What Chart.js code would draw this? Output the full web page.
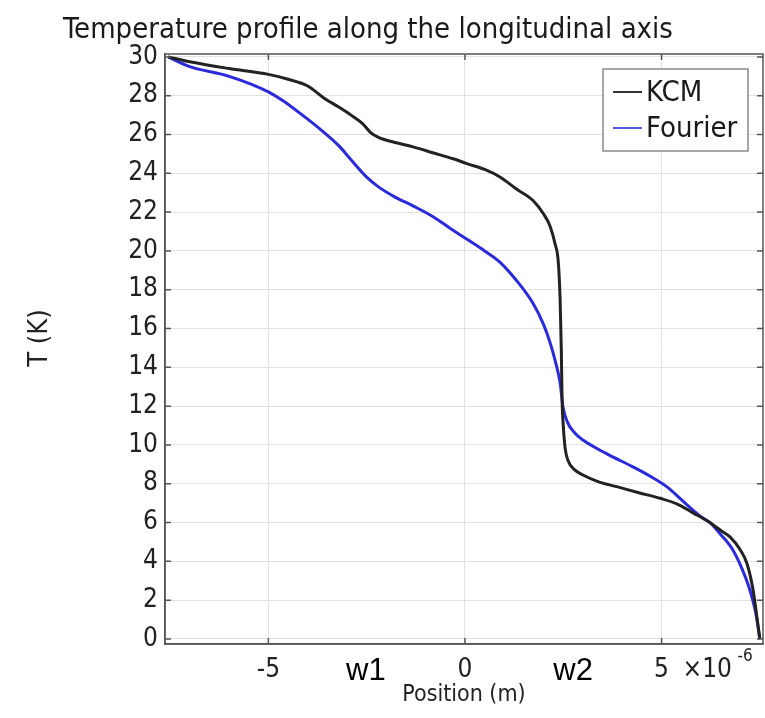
<!DOCTYPE html>
<html>
<head>
<meta charset="utf-8">
<title>Temperature profile</title>
<script src="https://cdn.jsdelivr.net/npm/chart.js@4.4.1/dist/chart.umd.min.js"></script>
<style>
    html, body { margin: 0; padding: 0; background: #fff; }
    #wrap { width: 765px; height: 718px; }
</style>
</head>
<body>
<div id="wrap"><canvas id="tempChart" width="765" height="718"></canvas></div>
<script>
// positions are in units of 1e-6 m (axis multiplier shown as x10^-6)
const kcmX = [-7.55, -7.0, -6.0, -5.0, -4.5, -4.0, -3.6, -3.2, -2.9, -2.6, -2.4, -2.2, -1.8, -1.3, -0.8, -0.3,
    0.05, 0.5, 0.9, 1.3, 1.73, 2.0, 2.16, 2.3, 2.37, 2.42, 2.45, 2.47, 2.5, 2.55, 2.62, 2.8, 3.0, 3.4, 3.86,
    4.4, 4.96, 5.4, 5.8, 6.23, 6.5, 6.74, 7.0, 7.17, 7.33, 7.42, 7.5];
const kcmT = [30.0, 29.75, 29.4, 29.1, 28.85, 28.5, 27.9, 27.4, 27.0, 26.55, 26.1, 25.85, 25.6, 25.35, 25.05, 24.75,
    24.5, 24.2, 23.8, 23.2, 22.6, 21.9, 21.3, 20.3, 19.5, 17.5, 14.9, 12.3, 11.0, 9.8, 9.2, 8.7, 8.45, 8.1, 7.85,
    7.55, 7.25, 6.95, 6.5, 6.0, 5.6, 5.26, 4.6, 3.9, 2.5, 1.2, 0.0];

const fourierX = [-7.55, -7.0, -6.0, -5.0, -4.6, -4.2, -3.7, -3.2, -2.9, -2.5, -2.2, -1.8, -1.3, -0.8, -0.4,
    0.05, 0.5, 0.9, 1.3, 1.73, 2.0, 2.16, 2.3, 2.42, 2.49, 2.6, 2.8, 3.0, 3.6, 4.27, 4.7, 5.13, 5.6, 6.0, 6.23,
    6.5, 6.81, 7.05, 7.25, 7.4, 7.5];
const fourierT = [30.0, 29.5, 29.0, 28.2, 27.7, 27.1, 26.3, 25.4, 24.7, 23.8, 23.3, 22.8, 22.3, 21.75, 21.2,
    20.6, 20.0, 19.4, 18.5, 17.3, 16.2, 15.3, 14.3, 13.2, 12.0, 11.2, 10.6, 10.25, 9.55, 8.87, 8.4, 7.85, 7.0, 6.3, 6.0,
    5.4, 4.6, 3.6, 2.5, 1.3, 0.0];

const xTicks = [-5, 0, 5];
const yTicks = [0, 2, 4, 6, 8, 10, 12, 14, 16, 18, 20, 22, 24, 26, 28, 30];

// region markers written under the axis
const markerLabels = ['w1', 'w2'];
const markerX = [-2.52, 2.75];

const FONT = '"DejaVu Sans Condensed", "DejaVu Sans", sans-serif';

function toPoints(xs, ys) {
    return xs.map(function(x, i) { return { x: x, y: ys[i] }; });
}

// frame, inward ticks, titles, legend box and the extra axis text
const decorations = {
    id: 'decorations',
    afterDraw: function(chart) {
        const ctx = chart.ctx;
        const a = chart.chartArea;
        const xs = chart.scales.x;
        const ys = chart.scales.y;
        ctx.save();

        ctx.strokeStyle = '#555';
        ctx.lineWidth = 1.5;
        ctx.strokeRect(a.left, a.top, a.right - a.left, a.bottom - a.top);

        ctx.beginPath();
        yTicks.forEach(function(v) {
            const p = ys.getPixelForValue(v);
            ctx.moveTo(a.left, p); ctx.lineTo(a.left + 6, p);
            ctx.moveTo(a.right, p); ctx.lineTo(a.right - 6, p);
        });
        xTicks.forEach(function(v) {
            const p = xs.getPixelForValue(v);
            ctx.moveTo(p, a.bottom); ctx.lineTo(p, a.bottom - 6);
            ctx.moveTo(p, a.top); ctx.lineTo(p, a.top + 6);
        });
        ctx.stroke();

        // title
        ctx.fillStyle = '#1a1a1a';
        ctx.font = '29px ' + FONT;
        ctx.textAlign = 'center';
        ctx.textBaseline = 'middle';
        ctx.fillText('Temperature profile along the longitudinal axis', 368, 30);

        // y axis title
        ctx.save();
        ctx.translate(40, 338);
        ctx.rotate(-Math.PI / 2);
        ctx.font = '27px ' + FONT;
        ctx.fillStyle = '#222';
        ctx.fillText('T (K)', 0, 0);
        ctx.restore();

        // multiplier next to the last tick label
        const x5 = xs.getPixelForValue(5);
        ctx.textAlign = 'left';
        ctx.font = '26px ' + FONT;
        ctx.fillStyle = '#222';
        ctx.fillText('\u00d710', x5 + 21, a.bottom + 26);
        ctx.font = '17px ' + FONT;
        ctx.fillText('-6', x5 + 76, a.bottom + 13);

        // w1 / w2 markers
        ctx.font = '31px "Liberation Sans", Arial, sans-serif';
        ctx.fillStyle = '#000';
        ctx.textAlign = 'center';
        ctx.textBaseline = 'alphabetic';
        markerLabels.forEach(function(t, i) {
            ctx.fillText(t, xs.getPixelForValue(markerX[i]), a.bottom + 36);
        });

        // legend
        const bx = a.right - 160, by = a.top + 15, bw = 145, bh = 82;
        ctx.fillStyle = '#fff';
        ctx.fillRect(bx, by, bw, bh);
        ctx.strokeStyle = '#8a8a8a';
        ctx.lineWidth = 1.5;
        ctx.strokeRect(bx, by, bw, bh);
        ctx.font = '29px ' + FONT;
        ctx.textAlign = 'left';
        ctx.textBaseline = 'middle';
        chart.data.datasets.forEach(function(ds, i) {
            const ly = by + 23 + i * 36;
            ctx.strokeStyle = ds.legendColor;
            ctx.lineWidth = 2;
            ctx.beginPath();
            ctx.moveTo(bx + 10, ly);
            ctx.lineTo(bx + 39, ly);
            ctx.stroke();
            ctx.fillStyle = '#1a1a1a';
            ctx.fillText(ds.label, bx + 43, ly + 1);
        });

        ctx.restore();
    }
};

const chart = new Chart(document.getElementById('tempChart'), {
    type: 'line',
    data: {
        datasets: [{
            label: 'KCM',
            data: toPoints(kcmX, kcmT),
            borderColor: '#222222',
            legendColor: '#333',
            borderWidth: 3,
            pointRadius: 0,
            cubicInterpolationMode: 'monotone',
            fill: false
        }, {
            label: 'Fourier',
            data: toPoints(fourierX, fourierT),
            borderColor: '#2a2adc',
            legendColor: '#5a5ae0',
            borderWidth: 3,
            pointRadius: 0,
            cubicInterpolationMode: 'monotone',
            fill: false
        }]
    },
    options: {
        responsive: false,
        animation: false,
        layout: {
            padding: { top: 54, right: 2, left: 0, bottom: 0 }
        },
        plugins: {
            legend: { display: false },
            tooltip: { enabled: false },
            title: { display: false }
        },
        scales: {
            x: {
                type: 'linear',
                min: -7.63,
                max: 7.58,
                afterBuildTicks: function(scale) {
                    scale.ticks = xTicks.map(function(v) { return { value: v }; });
                },
                afterFit: function(scale) { scale.height = 74; },
                grid: { color: '#e2e2e2', drawTicks: false },
                border: { color: '#555', width: 1.5 },
                ticks: {
                    padding: 11,
                    color: '#222',
                    font: { family: FONT, size: 26 },
                    callback: function(v) { return String(v); }
                },
                title: {
                    display: true,
                    text: 'Position (m)',
                    color: '#222',
                    font: { family: FONT, size: 23 },
                    padding: { top: 0, bottom: 9 }
                }
            },
            y: {
                type: 'linear',
                min: -0.26,
                max: 30.15,
                afterBuildTicks: function(scale) {
                    scale.ticks = yTicks.map(function(v) { return { value: v }; });
                },
                afterFit: function(scale) { scale.width = 165; },
                grid: { color: '#e2e2e2', drawTicks: false },
                border: { color: '#555', width: 1.5 },
                ticks: {
                    padding: 7,
                    color: '#222',
                    font: { family: FONT, size: 26 }
                }
            }
        }
    },
    plugins: [decorations]
});
</script>
</body>
</html>
